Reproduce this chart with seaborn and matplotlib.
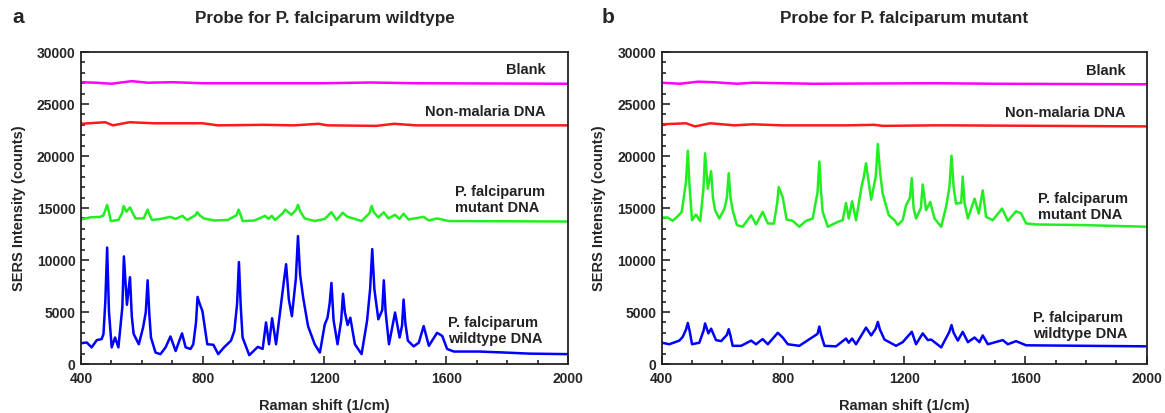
#!/usr/bin/env python3
"""
SERS spectra of the two P. falciparum probes (panels a and b).
"""

import matplotlib
matplotlib.use("Agg")
import matplotlib.pyplot as plt
from matplotlib.ticker import MultipleLocator
import seaborn as sns

sns.set_style("ticks")
plt.rcParams['font.family'] = ['Liberation Sans', 'DejaVu Sans']
plt.rcParams['font.weight'] = 'bold'

# Panel a: probe for wildtype
a_blank_x = [400, 450, 500, 567, 620, 700, 800, 1200, 1350, 1500, 2000]
a_blank_y = [27100, 27050, 26950, 27200, 27050, 27100, 27000, 27000, 27070, 27000, 26950]

a_nonmal_x = [400, 480, 505, 560, 640, 800, 850, 1000, 1100, 1180, 1210, 1370, 1430, 1500, 2000]
a_nonmal_y = [23100, 23250, 22950, 23250, 23150, 23150, 22950, 23000, 22950, 23100, 22950, 22900, 23100, 22950, 22950]

a_mut_x = [400, 430, 463, 474, 480, 486, 492, 498, 523, 535, 540, 549, 561, 579, 606, 612, 619,
           626, 634, 661, 694, 711, 733, 749, 776, 782, 790, 804, 838, 882, 911, 918, 925, 931,
           970, 1005, 1016, 1027, 1038, 1063, 1071, 1091, 1106, 1113, 1120, 1135, 1168, 1201,
           1223, 1240, 1260, 1276, 1289, 1322, 1348, 1355, 1362, 1377, 1395, 1410, 1432, 1446,
           1460, 1476, 1526, 1543, 1570, 1609, 2000]
a_mut_y = [13900, 14100, 14150, 14300, 14800, 15300, 14600, 13750, 13850, 14500, 15200, 14650,
           15050, 14000, 14000, 14400, 14850, 14300, 13850, 13950, 14150, 13950, 14250, 13850,
           14300, 14600, 14300, 14000, 13800, 13850, 14300, 14850, 14300, 13750, 13800, 14250,
           13950, 14250, 13850, 14500, 14850, 14350, 14800, 15300, 14700, 14000, 13750, 13950,
           14600, 13850, 14550, 14150, 14050, 13750, 14500, 15200, 14600, 14100, 14600, 14000,
           14350, 13950, 14450, 13900, 14150, 13800, 14000, 13750, 13700]

a_wild_x = [400, 419, 435, 452, 468, 474, 480, 486, 492, 501, 512, 523, 536, 541, 551, 561, 567,
            573, 590, 604, 613, 619, 625, 630, 645, 661, 678, 694, 711, 732, 744, 760, 769, 778,
            783, 790, 799, 815, 835, 851, 870, 893, 904, 913, 919, 925, 931, 953, 981, 997, 1008,
            1018, 1028, 1041, 1058, 1066, 1074, 1083, 1093, 1106, 1113, 1120, 1130, 1146, 1168,
            1185, 1201, 1210, 1217, 1223, 1230, 1243, 1255, 1261, 1267, 1276, 1285, 1300, 1322,
            1340, 1350, 1357, 1364, 1377, 1390, 1395, 1401, 1412, 1432, 1447, 1455, 1460, 1466,
            1474, 1493, 1510, 1526, 1543, 1570, 1587, 1603, 1625, 1708, 1796, 1873, 2000]
a_wild_y = [2000, 2070, 1600, 2300, 2400, 2900, 6000, 11200, 5000, 1600, 2550, 1600, 5500, 10350,
            5700, 8350, 4600, 2900, 1900, 3500, 5000, 8050, 4600, 2550, 1100, 950, 1600, 2650,
            1250, 2950, 1600, 1450, 1900, 4000, 6450, 5800, 5100, 1900, 1850, 950, 1600, 2250,
            3200, 5800, 9800, 5500, 2550, 850, 1650, 1450, 4000, 1900, 4400, 1900, 5900, 7800,
            9600, 6200, 4600, 8200, 12300, 8600, 6400, 3650, 1900, 1100, 3800, 4450, 5800, 7800,
            4200, 1900, 4200, 6750, 5000, 3750, 4450, 1900, 950, 4150, 7200, 11050, 7200, 4300,
            5200, 8050, 5000, 1900, 4950, 2550, 3700, 6200, 3900, 2250, 1700, 2050, 3650, 1750,
            3000, 2700, 1450, 1200, 1200, 1100, 1000, 950]

# Panel b: probe for mutant
b_blank_x = [400, 460, 520, 570, 650, 700, 900, 1300, 1500, 2000]
b_blank_y = [27050, 26950, 27150, 27100, 26950, 27050, 26950, 27000, 26950, 26900]

b_nonmal_x = [400, 480, 510, 560, 640, 700, 800, 1010, 1100, 1130, 1300, 1340, 2000]
b_nonmal_y = [23050, 23150, 22850, 23150, 22950, 23050, 22950, 22950, 23000, 22900, 22950, 22950, 22850]

b_mut_x = [400, 420, 436, 453, 466, 480, 486, 492, 500, 513, 527, 538, 543, 552, 563, 569, 576,
           590, 607, 615, 621, 627, 634, 648, 667, 695, 711, 733, 750, 770, 781, 786, 799, 812,
           832, 854, 876, 898, 914, 920, 926, 931, 948, 981, 997, 1008, 1017, 1028, 1041, 1060,
           1066, 1074, 1091, 1106, 1113, 1120, 1129, 1149, 1168, 1179, 1195, 1206, 1219, 1225,
           1231, 1239, 1255, 1261, 1272, 1286, 1300, 1322, 1338, 1349, 1356, 1363, 1371, 1388,
           1393, 1399, 1410, 1432, 1446, 1459, 1470, 1492, 1523, 1542, 1569, 1586, 1602, 1635,
           1789, 2000]
b_mut_y = [14090, 14090, 13770, 14210, 14630, 17500, 20510, 17000, 13830, 14370, 13740, 17000,
           20260, 16850, 18540, 16000, 14790, 13990, 14950, 16000, 18350, 16000, 14790, 13360,
           13200, 14310, 13420, 14630, 13520, 13500, 15500, 17010, 16060, 13900, 13770, 13200,
           13770, 13990, 16500, 19460, 16500, 14630, 13200, 13670, 13830, 15490, 13990, 15650,
           13830, 17170, 17900, 19300, 15800, 18000, 21150, 18500, 16380, 14310, 13830, 13360,
           13850, 15260, 16000, 17870, 15000, 13990, 15000, 17270, 14790, 15580, 13990, 13200,
           15110, 17000, 20030, 17000, 15420, 15500, 18030, 15500, 13990, 15900, 14470, 16700,
           14150, 13830, 14950, 13770, 14690, 14470, 13520, 13420, 13360, 13200]

b_wild_x = [400, 425, 458, 469, 480, 486, 492, 500, 524, 538, 543, 554, 563, 579, 596, 615, 621,
            627, 634, 662, 695, 711, 733, 750, 783, 799, 816, 854, 914, 920, 926, 937, 975, 1008,
            1017, 1028, 1041, 1074, 1091, 1106, 1113, 1120, 1135, 1173, 1195, 1225, 1239, 1261,
            1278, 1289, 1322, 1349, 1356, 1363, 1377, 1393, 1410, 1432, 1448, 1459, 1476, 1525,
            1542, 1569, 1602, 2000]
b_wild_y = [2050, 1900, 2250, 2600, 3300, 3950, 3200, 1900, 2050, 3200, 3900, 2950, 3400, 2300,
            2200, 2800, 3350, 2700, 1750, 1750, 2250, 1900, 2400, 1900, 3000, 2550, 1900, 1750,
            2900, 3600, 2800, 1750, 1700, 2450, 2050, 2450, 1900, 3500, 2750, 3400, 4050, 3300,
            2350, 1750, 2100, 3100, 1900, 2950, 2300, 2350, 1600, 3100, 3750, 3000, 2250, 3100,
            2100, 2550, 2100, 2750, 1900, 2300, 1900, 2200, 1800, 1700]

COLORS = {'blank': '#ff00ff', 'nonmal': '#ff1a1a', 'mut': '#22ee22', 'wild': '#0000ff'}


def draw_panel(ax, series, title, letter, letter_x, labels):
    for key, (x, y) in series.items():
        sns.lineplot(x=x, y=y, ax=ax, color=COLORS[key], lw=1.8, sort=False,
                     estimator=None, legend=False)
    ax.set_xlim(400, 2000)
    ax.set_ylim(0, 30000)
    ax.xaxis.set_major_locator(MultipleLocator(400))
    ax.xaxis.set_minor_locator(MultipleLocator(100))
    ax.yaxis.set_major_locator(MultipleLocator(5000))
    ax.yaxis.set_minor_locator(MultipleLocator(1000))
    ax.tick_params(which='both', direction='in', top=False, right=False,
                   labelsize=10, width=1.2, pad=4)
    ax.tick_params(axis='x', which='both', pad=6)
    ax.tick_params(which='major', length=6)
    ax.tick_params(which='minor', length=3)
    for s in ax.spines.values():
        s.set_linewidth(1.3)
        s.set_color('#222222')
    for lab in ax.get_xticklabels() + ax.get_yticklabels():
        lab.set_fontweight('bold')
    ax.set_xlabel('Raman shift (1/cm)', fontsize=10.5, fontweight='bold', labelpad=9)
    ax.set_ylabel('SERS Intensity (counts)', fontsize=10.5, fontweight='bold', labelpad=8)
    ax.set_title(title, fontsize=12.3, fontweight='bold', pad=21)
    ax.figure.text(letter_x, 0.958, letter, fontsize=15, fontweight='bold', va='center')
    for txt, x, y, ha in labels:
        ax.text(x, y, txt, fontsize=10.5, fontweight='bold', ha=ha, va='center',
                color='#222222', linespacing=1.2)


fig = plt.figure(figsize=(11.65, 4.13), dpi=100)
ax_a = fig.add_axes([0.0695, 0.1186, 0.418, 0.7554])
ax_b = fig.add_axes([0.568, 0.1186, 0.4163, 0.7554])

draw_panel(ax_a,
           {'blank': (a_blank_x, a_blank_y), 'nonmal': (a_nonmal_x, a_nonmal_y),
            'mut': (a_mut_x, a_mut_y), 'wild': (a_wild_x, a_wild_y)},
           'Probe for P. falciparum wildtype', 'a', 0.011,
           [('Blank', 1928, 28270, 'right'),
            ('Non-malaria DNA', 1928, 24230, 'right'),
            ('P. falciparum\nmutant DNA', 1628, 15750, 'left'),
            ('P. falciparum\nwildtype DNA', 1606, 3150, 'left')])

draw_panel(ax_b,
           {'blank': (b_blank_x, b_blank_y), 'nonmal': (b_nonmal_x, b_nonmal_y),
            'mut': (b_mut_x, b_mut_y), 'wild': (b_wild_x, b_wild_y)},
           'Probe for P. falciparum mutant', 'b', 0.516,
           [('Blank', 1932, 28200, 'right'),
            ('Non-malaria DNA', 1932, 24150, 'right'),
            ('P. falciparum\nmutant DNA', 1640, 15100, 'left'),
            ('P. falciparum\nwildtype DNA', 1624, 3650, 'left')])

fig.savefig('out.png', dpi=100)
plt.close(fig)
